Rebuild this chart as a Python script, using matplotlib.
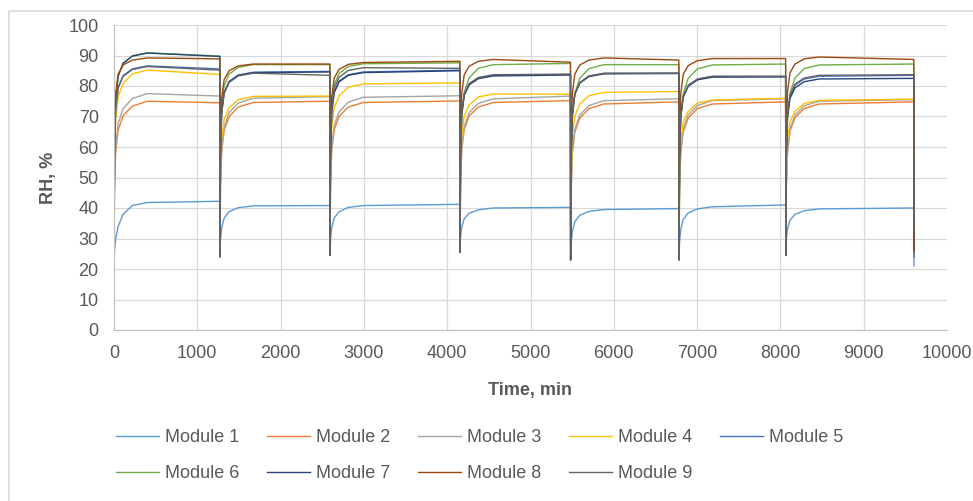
import matplotlib
matplotlib.use("Agg")
import matplotlib.pyplot as plt
from matplotlib.patches import Rectangle

# ---------- data ----------
# start of each humidification cycle, min
cycle_start = [0, 1272, 2593, 4154, 5482, 6783, 8065]
t_end = 9604
# sample points inside a cycle, min after its start (one more point = end of cycle)
offsets = [0, 6, 20, 50, 110, 220, 400]

# RH, % per cycle: [min, +6, +20, +50, +110, +220, +400, end of cycle]
module1 = [[23, 26, 30, 34, 38, 40.8, 41.8, 42.2],
           [24.5, 29.4, 33.4, 36.7, 38.8, 40.1, 40.7, 40.8],
           [24.5, 29.4, 33.5, 36.7, 38.8, 40.2, 40.8, 41.2],
           [26, 30.2, 33.7, 36.5, 38.3, 39.4, 40.0, 40.2],
           [23.5, 28.3, 32.3, 35.5, 37.6, 38.9, 39.5, 39.8],
           [23.5, 28.6, 32.8, 36.2, 38.4, 39.7, 40.4, 41.0],
           [25, 29.4, 33.1, 36.0, 37.9, 39.1, 39.7, 40.0]]
module2 = [[23, 46.4, 58.4, 65.6, 70.3, 73.4, 75.0, 74.5],
           [24, 46.8, 58.4, 65.5, 70.0, 73.1, 74.6, 75.0],
           [24.5, 47.0, 58.6, 65.6, 70.1, 73.1, 74.6, 75.1],
           [25.5, 47.6, 58.9, 65.8, 70.2, 73.1, 74.6, 75.2],
           [23, 46.0, 57.7, 64.9, 69.5, 72.6, 74.1, 74.8],
           [23, 46.0, 57.7, 64.9, 69.5, 72.6, 74.1, 74.8],
           [24.5, 46.8, 58.2, 65.2, 69.6, 72.6, 74.1, 74.8]]
module3 = [[23, 47.5, 60.1, 67.7, 72.6, 75.9, 77.5, 76.7],
           [24, 47.4, 59.4, 66.6, 71.3, 74.4, 76.0, 76.5],
           [24.5, 47.8, 59.7, 67.0, 71.6, 74.7, 76.3, 76.8],
           [25.5, 48.1, 59.7, 66.7, 71.3, 74.3, 75.8, 76.7],
           [23, 46.5, 58.5, 65.8, 70.5, 73.6, 75.2, 75.8],
           [23, 46.5, 58.5, 65.8, 70.5, 73.6, 75.2, 75.8],
           [24.5, 47.2, 58.8, 65.9, 70.5, 73.5, 75.0, 75.5]]
module4 = [[23, 54.1, 69.0, 76.5, 80.8, 84.0, 85.2, 83.8],
           [24, 50.3, 62.9, 69.2, 72.9, 75.5, 76.6, 76.7],
           [24.5, 52.6, 66.1, 72.8, 76.8, 79.6, 80.7, 81.0],
           [25.5, 51.5, 63.9, 70.1, 73.8, 76.4, 77.4, 77.3],
           [23, 50.5, 63.6, 70.2, 74.1, 76.8, 77.9, 78.2],
           [23, 49.2, 61.8, 68.1, 71.7, 74.4, 75.4, 76.0],
           [24.5, 49.9, 62.1, 68.2, 71.7, 74.3, 75.3, 75.7]]
module5 = [[23, 58.0, 72.6, 79.6, 83.4, 85.6, 86.6, 85.6],
           [24, 57.3, 71.2, 77.8, 81.5, 83.6, 84.5, 84.8],
           [24.5, 57.6, 71.4, 78.0, 81.6, 83.7, 84.6, 85.2],
           [25.5, 57.4, 70.7, 77.1, 80.6, 82.6, 83.5, 83.8],
           [23, 56.6, 70.7, 77.4, 81.0, 83.2, 84.1, 84.2],
           [23, 56.1, 69.9, 76.5, 80.1, 82.2, 83.1, 83.1],
           [24.5, 56.8, 70.3, 76.7, 80.3, 82.3, 83.2, 83.5]]
module6 = [[23, 60.3, 76.0, 83.4, 87.5, 89.9, 90.9, 89.8],
           [24, 58.7, 73.1, 80.1, 83.9, 86.1, 87.0, 87.0],
           [24.5, 59.0, 73.5, 80.4, 84.2, 86.4, 87.3, 87.6],
           [26, 56.5, 69.9, 77.9, 82.7, 85.8, 87.0, 87.4],
           [23.5, 55.3, 69.2, 77.5, 82.6, 85.7, 87.0, 87.0],
           [23.5, 55.2, 69.1, 77.4, 82.5, 85.6, 86.9, 87.2],
           [25, 56.0, 69.6, 77.6, 82.6, 85.7, 86.9, 87.2]]
module7 = [[23, 60.3, 75.9, 83.3, 87.4, 89.8, 90.8, 89.7],
           [24.5, 57.4, 71.2, 77.8, 81.4, 83.5, 84.4, 84.6],
           [24.5, 57.4, 71.2, 77.8, 81.4, 83.5, 84.4, 85.0],
           [25.5, 57.3, 70.6, 76.9, 80.4, 82.4, 83.3, 83.6],
           [23, 56.6, 70.6, 77.3, 81.0, 83.1, 84.0, 84.1],
           [23, 56.0, 69.7, 76.3, 79.9, 82.0, 82.9, 83.0],
           [24.5, 56.3, 69.6, 75.9, 79.4, 81.4, 82.3, 82.5]]
module8 = [[23, 62.7, 77.3, 83.9, 86.9, 88.5, 89.2, 88.9],
           [24, 61.9, 75.8, 82.1, 85.0, 86.6, 87.2, 87.2],
           [24.5, 62.4, 76.3, 82.6, 85.5, 87.1, 87.7, 88.1],
           [26, 63.6, 77.4, 83.7, 86.5, 88.1, 88.7, 87.8],
           [23.5, 62.9, 77.4, 83.9, 86.9, 88.5, 89.2, 88.5],
           [23.5, 62.8, 77.2, 83.8, 86.7, 88.3, 89.0, 89.0],
           [25, 63.7, 77.9, 84.3, 87.2, 88.9, 89.5, 88.7]]
module9 = [[23, 57.9, 72.5, 79.4, 83.2, 85.4, 86.4, 85.2],
           [24, 57.1, 71.0, 77.6, 81.2, 83.3, 84.2, 83.5],
           [24.5, 58.3, 72.5, 79.2, 82.9, 85.1, 86.0, 85.8],
           [25.5, 57.5, 70.9, 77.3, 80.8, 82.8, 83.7, 83.9],
           [23, 56.7, 70.7, 77.5, 81.1, 83.3, 84.2, 84.2],
           [23, 56.1, 70.0, 76.6, 80.2, 82.3, 83.2, 83.2],
           [24.5, 57.0, 70.5, 77.0, 80.6, 82.6, 83.5, 83.7]]
# value each module falls to at the very end of the test
final_drop = [21, 27, 30, 25, 24, 28, 26, 25.5, 33]

modules = [module1, module2, module3, module4, module5,
           module6, module7, module8, module9]
labels = ["Module %d" % (i + 1) for i in range(9)]
colors = ["#5B9BD5", "#ED7D31", "#A5A5A5", "#FFC000", "#4472C4",
          "#70AD47", "#264478", "#9E480E", "#636363"]

FONT = ["Liberation Sans", "DejaVu Sans"]
TXT = "#595959"


def build_series(cycles, last):
    times, vals = [], []
    for i, row in enumerate(cycles):
        start = cycle_start[i]
        stop = cycle_start[i + 1] if i + 1 < len(cycle_start) else t_end
        times += [start + o for o in offsets] + [stop - 2]
        vals += row
    times.append(t_end)
    vals.append(last)
    return times, vals


fig = plt.figure(figsize=(9.73, 5.01), dpi=100)
ax = fig.add_axes([114 / 973, 1 - 330 / 501, 833 / 973, 305 / 501])

handles = []
for cyc, last, lab, col in zip(modules, final_drop, labels, colors):
    t, v = build_series(cyc, last)
    h, = ax.plot(t, v, color=col, lw=1.0, label=lab)
    handles.append(h)

ax.set_xlim(0, 10000)
ax.set_ylim(0, 100)
ax.set_xticks(range(0, 10001, 1000))
ax.set_yticks(range(0, 101, 10))
ax.grid(True, color="#D9D9D9", lw=0.9)
ax.set_axisbelow(True)
ax.get_xgridlines()[-1].set_visible(False)
for s in ["top", "right"]:
    ax.spines[s].set_visible(False)
for s in ["left", "bottom"]:
    ax.spines[s].set_color("#BFBFBF")
ax.tick_params(length=0, pad=11, labelsize=13, labelcolor=TXT)
for lbl in ax.get_xticklabels() + ax.get_yticklabels():
    lbl.set_family(FONT)

ax.set_xlabel("Time, min", fontsize=13, fontweight="bold", color=TXT,
              family=FONT, labelpad=14)
ax.set_ylabel("RH, %", fontsize=13, fontweight="bold", color=TXT,
              family=FONT, labelpad=8)

# legend is filled column by column -> reorder so it reads row by row
order = [0, 5, 1, 6, 2, 7, 3, 8, 4]
leg = fig.legend([handles[i] for i in order], [labels[i] for i in order],
                 loc="center", bbox_to_anchor=(0.493, 0.091), ncol=5,
                 frameon=False, handlelength=2.4, handletextpad=0.35,
                 columnspacing=1.5, labelspacing=1.05,
                 prop={"family": FONT, "size": 13})
for txt in leg.get_texts():
    txt.set_color(TXT)

# chart area border
fig.patches.append(Rectangle((9 / 973, -0.2), 1.2, 1 - 11 / 501 + 0.2,
                             transform=fig.transFigure, fill=False,
                             edgecolor="#D9D9D9", lw=1.2))

fig.savefig("out.png", dpi=100)
